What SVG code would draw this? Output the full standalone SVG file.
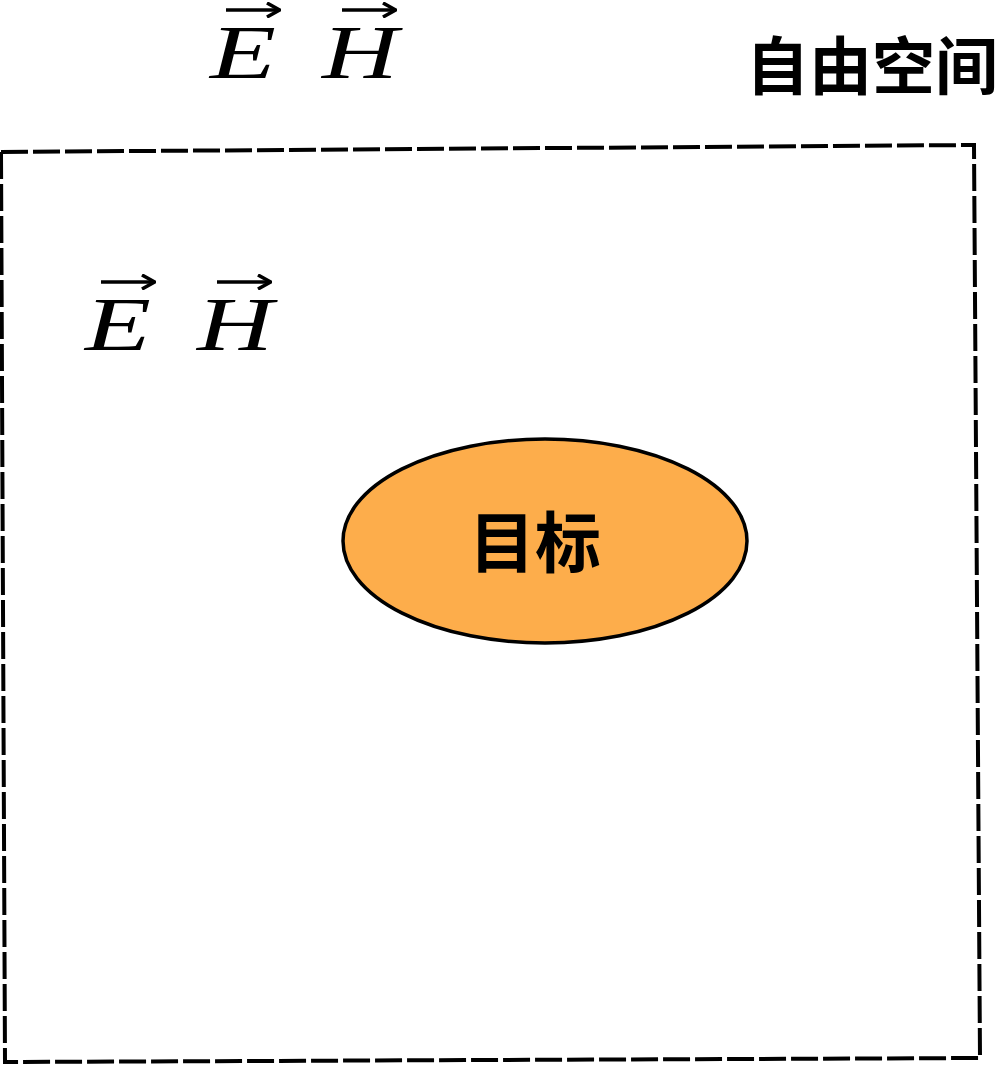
<svg xmlns="http://www.w3.org/2000/svg" width="1000" height="1065" viewBox="0 0 1000 1065">
<style>
.math{font-family:"Liberation Serif","DejaVu Serif",serif;font-style:italic;font-size:76px;fill:#000}
.cjk{font-family:"Noto Sans CJK SC","Noto Sans",sans-serif;font-weight:bold;fill:#000}
.vec{stroke:#000;stroke-width:3.5;fill:none}
</style>
<defs>
<marker id="ah" viewBox="0 0 10 10" refX="8" refY="5" markerWidth="4.5" markerHeight="4.5" markerUnits="strokeWidth" orient="auto">
<path d="M1,0.5 L9,5 L1,9.5" fill="none" stroke="#000" stroke-width="2.2" stroke-linejoin="miter"/>
</marker>
</defs>
<rect width="1000" height="1065" fill="#fff"/>
<g id="boundary">
<path d="M1,152 L974,145 L980,1058 L5,1062 Z" fill="none" stroke="#000" stroke-width="4" stroke-dasharray="27 5"/>
</g>
<g id="label-free-space">
<text class="cjk" x="746" y="89" font-size="63">自由空间</text>
</g>
<g id="fields-outside">
<text class="math" x="210" y="78" textLength="66" lengthAdjust="spacingAndGlyphs">E</text>
<text class="math" x="322" y="78" textLength="76" lengthAdjust="spacingAndGlyphs">H</text>
<line class="vec" x1="226" y1="10" x2="278" y2="10" marker-end="url(#ah)"/>
<line class="vec" x1="342" y1="10" x2="394" y2="10" marker-end="url(#ah)"/>
</g>
<g id="fields-inside">
<text class="math" x="85" y="350" textLength="66" lengthAdjust="spacingAndGlyphs">E</text>
<text class="math" x="197" y="350" textLength="76" lengthAdjust="spacingAndGlyphs">H</text>
<line class="vec" x1="101" y1="282" x2="153" y2="282" marker-end="url(#ah)"/>
<line class="vec" x1="217" y1="282" x2="269" y2="282" marker-end="url(#ah)"/>
</g>
<g id="target">
<ellipse cx="545" cy="541" rx="202" ry="102" fill="#FDAD4B" stroke="#000" stroke-width="3.5"/>
<text class="cjk" x="535" y="567" font-size="66" text-anchor="middle">目标</text>
</g>
</svg>
